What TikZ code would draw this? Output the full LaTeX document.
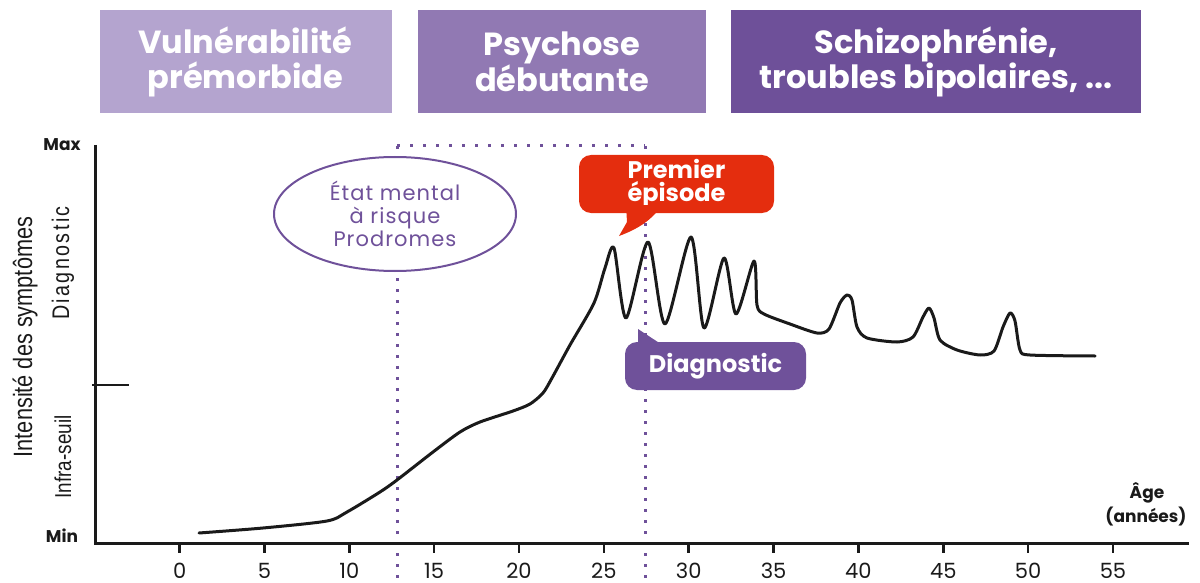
\documentclass[tikz,border=0pt]{standalone}
\usepackage{fontspec}
\usetikzlibrary{shapes.geometric}
\setmainfont{Poppins}
\newfontfamily\condfont[FakeStretch=0.82]{Liberation Sans}
\newfontfamily\diagfont[FakeStretch=0.82, LetterSpace=10]{Liberation Sans}
\newfontfamily\spacedfont[LetterSpace=5]{Poppins}
\definecolor{lavA}{HTML}{B4A4CF}
\definecolor{lavB}{HTML}{9179B3}
\definecolor{lavC}{HTML}{6E5099}
\definecolor{redc}{HTML}{E42D0E}
\definecolor{purp}{HTML}{6F519A}
\definecolor{ink}{HTML}{1A1A1A}
\tikzset{
  phasebox/.style={inner sep=0pt, text=white, align=center,
    font=\fontsize{32}{35}\selectfont\bfseries},
  axisline/.style={draw=ink, line width=3pt, line join=miter},
  tickmark/.style={draw=ink, line width=2.5pt},
  ticklbl/.style={text=ink, font=\fontsize{21}{21}\selectfont, inner sep=0pt, anchor=base},
  condlbl/.style={text=ink, font=\condfont\fontsize{23}{23}\selectfont, inner sep=0pt},
  smalllbl/.style={text=ink, font=\fontsize{17}{17}\selectfont\bfseries, inner sep=0pt},
  dotline/.style={draw=purp, line width=3pt, dash pattern=on 3pt off 8pt},
  dotlineh/.style={draw=purp, line width=3pt, dash pattern=on 3pt off 10pt},
  curveline/.style={draw=ink, line width=3pt, line join=round, line cap=round},
  callout/.style={rounded corners=12pt, inner sep=0pt, text=white, align=center,
    font=\fontsize{24}{23}\selectfont\bfseries},
}
\begin{document}
\begin{tikzpicture}[x=1pt,y=-1pt]
\useasboundingbox (0,0) rectangle (1200,583);

% phase boxes
\node[phasebox, fill=lavA, minimum width=292pt, minimum height=103pt] (b1) at (245.5,61.5) {Vulnérabilité\\prémorbide};
\node[phasebox, fill=lavB, minimum width=288pt, minimum height=103pt] (b2) at (562,61.5) {Psychose\\débutante};
\node[phasebox, fill=lavC, minimum width=410pt, minimum height=103pt] (b3) at (936,61.5) {Schizophrénie,\\troubles bipolaires, ...};

% dotted guide lines
\coordinate (d1top) at (397,146);
\coordinate (d2top) at (645,146);
\coordinate (d1bot) at (397,583);
\coordinate (d2bot) at (645,583);
\draw[dotlineh] (d1top) -- (d2top);
\draw[dotline] (d1top) -- (d1bot);
\draw[dotline] (d2top) -- (d2bot);

% axes
\coordinate (ytop) at (95,145);
\coordinate (origin) at (95,543);
\coordinate (xend) at (1189,543);
\draw[axisline] (ytop) -- (origin) -- (xend);
\coordinate (thrA) at (92,385);
\coordinate (thrB) at (129,385);
\draw[tickmark] (thrA) -- (thrB);

\foreach \a in {0,5,...,55} {
  \coordinate (tk\a) at ({179.6+16.97*\a},543);
  \draw[tickmark] (tk\a) -- ++(0,10);
  \node[ticklbl] (tl\a) at ({179.6+16.97*\a},578) {\a};
}

% axis labels
\node[smalllbl] (max) at (62,145) {Max};
\node[smalllbl] (min) at (62,536) {Min};
\node[condlbl, font=\condfont\fontsize{26.5}{26.5}\selectfont, rotate=90] (inten) at (25,337) {Intensité des symptômes};
\node[condlbl, font=\diagfont\fontsize{24}{24}\selectfont, rotate=90] (diag) at (63,263) {Diagnostic};
\node[condlbl, rotate=90] (infra) at (63,457) {Infra-seuil};
\node[smalllbl] (age) at (1147,493) {Âge};
\node[smalllbl] (annees) at (1146,517) {(années)};

% symptom curve
\draw[curveline] plot[smooth, tension=0.45] coordinates {
 (199,533) (263,528) (327,521) (347,512) (380,492) (397,480) (433,452) (460,432)
 (480,422) (513,411) (530,404) (543,393) (552,378) (570,345) (594,303) (605,268)
 (614,248) (626,318) (648,242) (665,324) (691,237) (704,328) (724,258) (736,314)
 (754,261) (757,305) (764,314) (790,324) (817,333) (829,329) (840,303) (847,295)
 (852,300) (857,327) (867,338) (897,342) (913,337) (923,317) (929,308) (934,318)
 (940,340) (957,350) (980,355) (994,351) (1003,327) (1010,313) (1015,321)
 (1020,350) (1030,355) (1095,356)};

% ellipse
\node[draw=purp, line width=2pt, fill=white, ellipse, minimum width=242pt, minimum height=114pt, inner sep=0pt,
  text=purp, align=center, font=\spacedfont\fontsize{21}{23}\selectfont] (ema) at (395,214)
  {État mental\\à risque\\Prodromes};

% red callout
\node[callout, fill=redc, minimum width=195pt, minimum height=58pt] (prem) at (676.5,184) {Premier\\épisode};
\fill[redc] (626,205) -- (627,222) -- (619,236) .. controls (638,229) and (652,220) .. (662,205) -- cycle;

% purple diagnostic callout
\node[callout, fill=purp, minimum width=181pt, minimum height=48pt] (diagc) at (715.5,366) {Diagnostic};
\fill[purp] (638,329) -- (638,350) -- (670,350) -- cycle;
\end{tikzpicture}
\end{document}
